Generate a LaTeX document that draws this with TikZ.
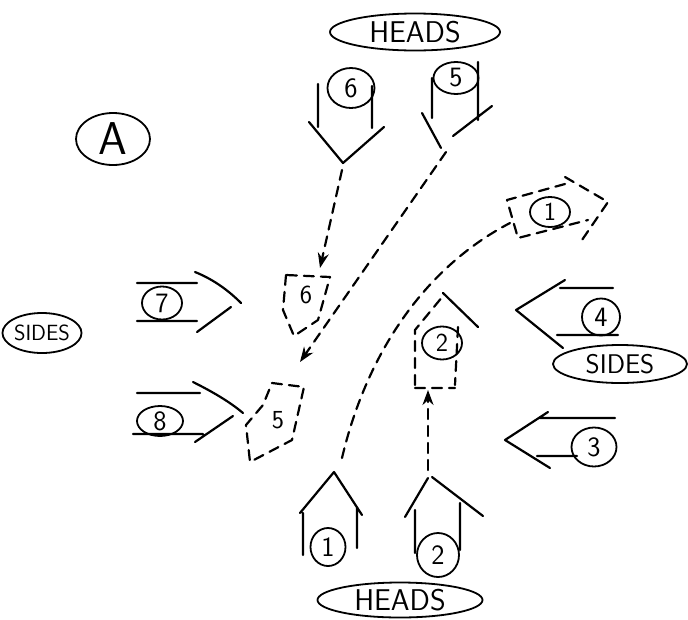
\documentclass[tikz,border=0pt]{standalone}
\usetikzlibrary{shapes.geometric,arrows.meta}
\begin{document}
\begin{tikzpicture}[x=1pt,y=-1pt,
  ln/.style={line width=2.2pt,line cap=round,line join=round},
  dsh/.style={ln,dash pattern=on 10pt off 7pt},
  oval/.style={ellipse,draw,line width=1.8pt,inner sep=0pt},
  txt/.style={font=\sffamily\fontsize{#1}{#1}\selectfont},
  tip/.style={-{Stealth[length=15pt,width=11pt]}}
]
\useasboundingbox[fill=white] (0,0) rectangle (688,619);

% labels in ovals
\node[oval,txt=30,minimum width=170pt,minimum height=37pt] (headsT) at (415,32) {HEADS};
\node[oval,txt=46,minimum width=74pt,minimum height=52pt] (A) at (113,139) {A};
\node[oval,txt=22,minimum width=78pt,minimum height=40pt] (sidesL) at (42,333) {SIDES};
\node[oval,txt=27,minimum width=134pt,minimum height=38pt] (sidesR) at (620,364) {SIDES};
\node[oval,txt=30,minimum width=165pt,minimum height=35pt] (headsB) at (400,600) {HEADS};

% numbered circles
\node[oval,txt=28,minimum width=47pt,minimum height=40pt] (n6) at (351,88) {6};
\node[oval,txt=28,minimum width=45pt,minimum height=32pt] (n5) at (456,78) {5};
\node[oval,txt=28,minimum width=40pt,minimum height=33pt] (n7) at (162,303) {7};
\node[oval,txt=28,minimum width=46pt,minimum height=30pt] (n8) at (160,421) {8};
\node[oval,txt=28,minimum width=38pt,minimum height=37pt] (n4) at (601,317) {4};
\node[oval,txt=28,minimum width=45pt,minimum height=39pt] (n3) at (594,447) {3};
\node[oval,txt=28,minimum width=35pt,minimum height=38pt] (n1) at (328,547) {1};
\node[oval,txt=28,minimum width=42pt,minimum height=44pt] (n2) at (438,555) {2};
\node[oval,txt=26,minimum width=40pt,minimum height=30pt] (b1) at (550,212) {1};
\node[oval,txt=26,minimum width=40pt,minimum height=33pt] (b2) at (442,343) {2};
\node[txt=26,inner sep=0pt] (b6) at (306,295) {6};
\node[txt=26,inner sep=0pt] (b5) at (278,420) {5};

% solid vehicle arrows
% 6 (down)
\draw[ln] (318,84)--(318,127) (372,86)--(372,128) (309,122)--(343,163)--(384,127);
% 5 (down)
\draw[ln] (432,78)--(432,118) (478,62)--(478,120) (422,113)--(441,148) (492,106)--(453,136);
% 7 (right)
\draw[ln] (137,283)--(197,283) (137,321)--(197,321)
  (195,272) .. controls (215,280) and (230,292) .. (241,303) (231,307)--(197,332);
% 8 (right)
\draw[ln] (137,393)--(200,393) (133,434)--(203,434)
  (193,382) .. controls (213,392) and (230,402) .. (243,413) (233,416)--(195,442);
% 4 (left)
\draw[ln] (560,288)--(613,288) (565,280)--(516,310)--(563,348) (557,335)--(618,335);
% 3 (left)
\draw[ln] (540,418)--(615,418) (548,412)--(505,440)--(550,468) (537,456)--(577,456);
% 1 (up)
\draw[ln] (303,513)--(303,555) (357,508)--(357,548) (300,513)--(334,472)--(362,515);
% 2 (up)
\draw[ln] (415,510)--(415,553) (460,503)--(460,550) (405,517)--(428,478) (432,477)--(483,516);

% dashed end positions
\draw[dsh] (286,275)--(283,310)--(294,336)--(318,320)--(330,277)--cycle;
\draw[dsh] (272,383)--(304,387)--(292,440)--(250,462)--(246,425)--(263,405)--cycle;
\draw[dsh] (565,184)--(507,200)--(518,238)--(588,220) (565,177)--(608,202)--(582,240);
\draw[dsh] (415,385)--(415,330)--(443,296) (458,327)--(455,385) (415,388)--(455,388);
\draw[ln] (443,293)--(478,327);

% paths
\coordinate (t6) at (342,170); \coordinate (e6) at (320,268);
\coordinate (t5) at (446,152); \coordinate (e5) at (300,362);
\coordinate (t1) at (342,458); \coordinate (e1) at (510,223);
\coordinate (t2) at (428,470); \coordinate (e2) at (428,390);
\draw[dsh,tip] (t6) -- (e6);
\draw[dsh,tip] (t5) -- (e5);
\draw[dsh] (t1) .. controls (365,360) and (420,270) .. (e1);
\draw[dsh,tip] (t2) -- (e2);
\end{tikzpicture}
\end{document}
